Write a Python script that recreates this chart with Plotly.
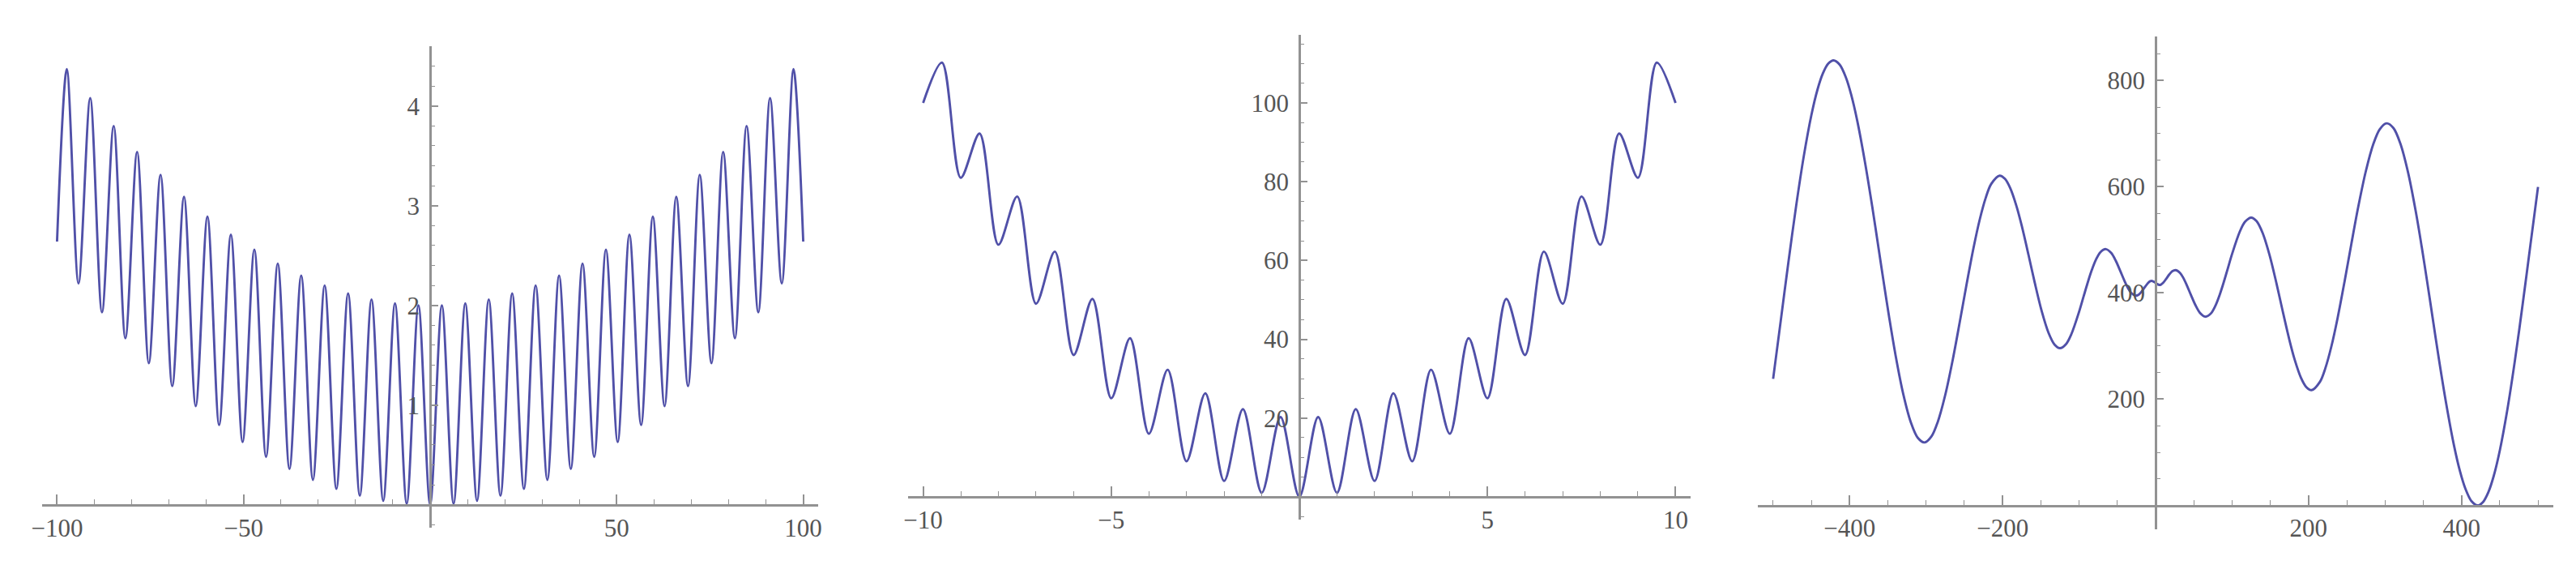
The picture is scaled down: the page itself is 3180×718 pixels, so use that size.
import plotly.graph_objects as go

W, H = 3180, 718
OFF = 8  # page body margin in the browser

# ---- Panel 1 (Griewank-like curve): extrema ----
p1_x = [-100, -97.39, -94.25, -91.11, -87.96, -84.82, -81.68, -78.54, -75.40, -72.26,
        -69.12, -65.97, -62.83, -59.69, -56.55, -53.41, -50.27, -47.12, -43.98, -40.84,
        -37.70, -34.56, -31.42, -28.27, -25.13, -21.99, -18.85, -15.71, -12.57, -9.42,
        -6.28, -3.14, 0, 3.14, 6.28, 9.42, 12.57, 15.71, 18.85, 21.99, 25.13, 28.27,
        31.42, 34.56, 37.70, 40.84, 43.98, 47.12, 50.27, 53.41, 56.55, 59.69, 62.83,
        65.97, 69.12, 72.26, 75.40, 78.54, 81.68, 84.82, 87.96, 91.11, 94.25, 97.39, 100]
p1_y = [2.64, 4.37, 2.22, 4.08, 1.93, 3.80, 1.67, 3.54, 1.42, 3.31,
        1.19, 3.09, 0.99, 2.89, 0.80, 2.71, 0.63, 2.56, 0.48, 2.42,
        0.36, 2.30, 0.25, 2.20, 0.16, 2.12, 0.09, 2.06, 0.04, 2.02,
        0.01, 2.00, 0.00, 2.00, 0.01, 2.02, 0.04, 2.06, 0.09, 2.12, 0.16, 2.20,
        0.25, 2.30, 0.36, 2.42, 0.48, 2.56, 0.63, 2.71, 0.80, 2.89, 0.99,
        3.09, 1.19, 3.31, 1.42, 3.54, 1.67, 3.80, 1.93, 4.08, 2.22, 4.37, 2.64]

# ---- Panel 2 (Rastrigin-like curve) ----
p2_x = [-10, -9.5, -9, -8.5, -8, -7.5, -7, -6.5, -6, -5.5, -5, -4.5, -4, -3.5, -3, -2.5,
        -2, -1.5, -1, -0.5, 0, 0.5, 1, 1.5, 2, 2.5, 3, 3.5, 4, 4.5, 5, 5.5, 6, 6.5, 7,
        7.5, 8, 8.5, 9, 9.5, 10]
p2_y = [100, 110.25, 81, 92.25, 64, 76.25, 49, 62.25, 36, 50.25, 25, 40.25, 16, 32.25,
        9, 26.25, 4, 22.25, 1, 20.25, 0, 20.25, 1, 22.25, 4, 26.25, 9, 32.25, 16, 40.25,
        25, 50.25, 36, 62.25, 49, 76.25, 64, 92.25, 81, 110.25, 100]

# ---- Panel 3 (Schwefel-like curve) ----
p3_x = [-500, -490, -480, -470, -460, -450, -442, -435, -428, -421, -413, -405, -398,
        -390, -380, -370, -362, -355, -348, -340, -330, -320, -311, -302, -293, -285,
        -275, -265, -256, -247, -238, -230, -222, -215, -204, -197, -190, -182, -175,
        -166, -158, -149, -140, -132, -125, -117, -110, -100, -94, -89, -84, -78, -72,
        -65, -58, -52, -46, -40, -36, -32, -26, -22, -18, -14, -10, -7, -5, -2, 0,
        2, 5, 7, 10, 14, 18, 22, 26, 32, 36, 40, 46, 52, 58, 65, 72, 78, 84, 89, 94,
        100, 110, 117, 125, 132, 140, 149, 158, 166, 175, 182, 190, 197, 204, 215, 222,
        230, 238, 247, 256, 265, 275, 285, 293, 302, 311, 320, 330, 340, 348, 355, 362,
        370, 380, 390, 398, 405, 413, 421, 428, 435, 442, 450, 460, 470, 480, 490, 500]
p3_y = [238.4, 348.3, 458.4, 563.1, 656.9, 734.9, 783.0, 813.3, 831.8, 838.0, 830.0,
        806.4, 773.8, 724.1, 646.9, 558.8, 482.6, 416.1, 351.6, 283.3, 210.5, 156.5,
        127.5, 118.5, 129.8, 156.2, 208.0, 275.6, 345.3, 417.0, 484.9, 537.7, 579.5,
        605.0, 620.9, 615.0, 597.3, 564.2, 526.7, 470.9, 419.5, 366.5, 325.2, 302.7,
        296.1, 303.9, 322.8, 364.6, 393.9, 418.2, 440.6, 462.6, 477.1, 482.6, 475.4,
        460.6, 441.0, 420.7, 408.9, 400.2, 394.9, 397.0, 403.0, 411.1, 418.8, 422.3,
        422.9, 421.0, 419.0,
        417.0, 415.1, 415.7, 419.2, 426.9, 435.0, 441.0, 443.1, 437.8, 429.1, 417.3,
        397.0, 377.4, 362.6, 355.4, 360.9, 375.4, 397.4, 419.8, 444.1, 473.4, 515.2,
        534.1, 541.9, 535.3, 512.8, 471.5, 418.5, 367.1, 311.3, 273.8, 240.7, 223.0,
        217.1, 233.0, 258.5, 300.3, 353.1, 421.0, 492.7, 562.4, 630.0, 681.8, 708.2,
        719.5, 710.5, 681.5, 627.5, 554.7, 486.4, 421.9, 355.4, 279.2, 191.1, 113.9,
        64.2, 31.6, 8.0, 0.0, 6.2, 24.7, 55.0, 103.1, 181.1, 274.9, 379.6, 489.7, 599.6]

# tick labels
p1_xt = [-100, -50, 50, 100]
p1_yt = [1, 2, 3, 4]
p2_xt = [-10, -5, 5, 10]
p2_yt = [20, 40, 60, 80, 100]
p3_xt = [-400, -200, 200, 400]
p3_yt = [200, 400, 600, 800]

LINE = "#5050a8"
AXC = "#929292"
LBL = "#555555"
FONT = dict(family="Liberation Serif", size=31, color=LBL)


def lab(v):
    return [("\u2212" + str(abs(t))) if t < 0 else str(t) for t in v]


fig = go.Figure()
for i, (xs, ys) in enumerate([(p1_x, p1_y), (p2_x, p2_y), (p3_x, p3_y)]):
    s = "" if i == 0 else str(i + 1)
    fig.add_trace(go.Scatter(x=xs, y=ys, mode="lines",
                             line=dict(color=LINE, width=2.9, shape="spline", smoothing=0.9),
                             xaxis="x" + s, yaxis="y" + s, showlegend=False,
                             hoverinfo="skip"))

# panel geometry in pixels (as seen in the reference)
panels = [
    dict(xpx=(52, 1010), xr=(-104, 104), ypx=(57, 651), yr=(-0.23, 4.60),
         xt=p1_xt, yt=p1_yt, xm=10, ym=0.2),
    dict(xpx=(1121, 2087), xr=(-10.4, 10.4), ypx=(43, 641), yr=(-5.8, 117.3),
         xt=p2_xt, yt=p2_yt, xm=1, ym=5),
    dict(xpx=(2170, 3152), xr=(-520, 520), ypx=(45, 653), yr=(-45, 883),
         xt=p3_xt, yt=p3_yt, xm=50, ym=50),
]

layout = dict(template="none", width=W, height=H, autosize=False,
              margin=dict(l=0, r=0, t=0, b=0, pad=0),
              paper_bgcolor="white", plot_bgcolor="white", showlegend=False)

for i, p in enumerate(panels):
    s = "" if i == 0 else str(i + 1)
    x0, x1 = [v - OFF for v in p["xpx"]]
    yt_, yb_ = [v - OFF for v in p["ypx"]]
    xdom = [x0 / W, x1 / W]
    ydom = [1 - yb_ / H, 1 - yt_ / H]
    zy = yb_ - (0 - p["yr"][0]) / (p["yr"][1] - p["yr"][0]) * (yb_ - yt_)
    zx = x0 + (0 - p["xr"][0]) / (p["xr"][1] - p["xr"][0]) * (x1 - x0)
    layout["xaxis" + s] = dict(
        domain=xdom, range=list(p["xr"]), anchor="free", position=1 - zy / H,
        automargin=False,
        showline=True, linecolor=AXC, linewidth=2.5, showgrid=False, zeroline=False,
        ticks="inside", ticklen=12, tickwidth=1.6, tickcolor=AXC,
        tickmode="array", tickvals=p["xt"], ticktext=lab(p["xt"]), tickfont=FONT,
        minor=dict(ticks="inside", tickmode="linear", tick0=0, dtick=p["xm"],
                   ticklen=6, tickwidth=1.4, tickcolor=AXC, showgrid=False),
        fixedrange=True)
    layout["yaxis" + s] = dict(
        domain=ydom, range=list(p["yr"]), anchor="free", position=zx / W, side="left",
        automargin=False, ticklabelstandoff=6,
        showline=True, linecolor=AXC, linewidth=2.5, showgrid=False, zeroline=False,
        ticks="inside", ticklen=8, tickwidth=1.6, tickcolor=AXC,
        tickmode="array", tickvals=p["yt"], ticktext=lab(p["yt"]), tickfont=FONT,
        minor=dict(ticks="inside", tickmode="linear", tick0=0, dtick=p["ym"],
                   ticklen=4, tickwidth=1.4, tickcolor=AXC, showgrid=False),
        fixedrange=True)

fig.update_layout(**layout)
fig.write_html("out.html")
